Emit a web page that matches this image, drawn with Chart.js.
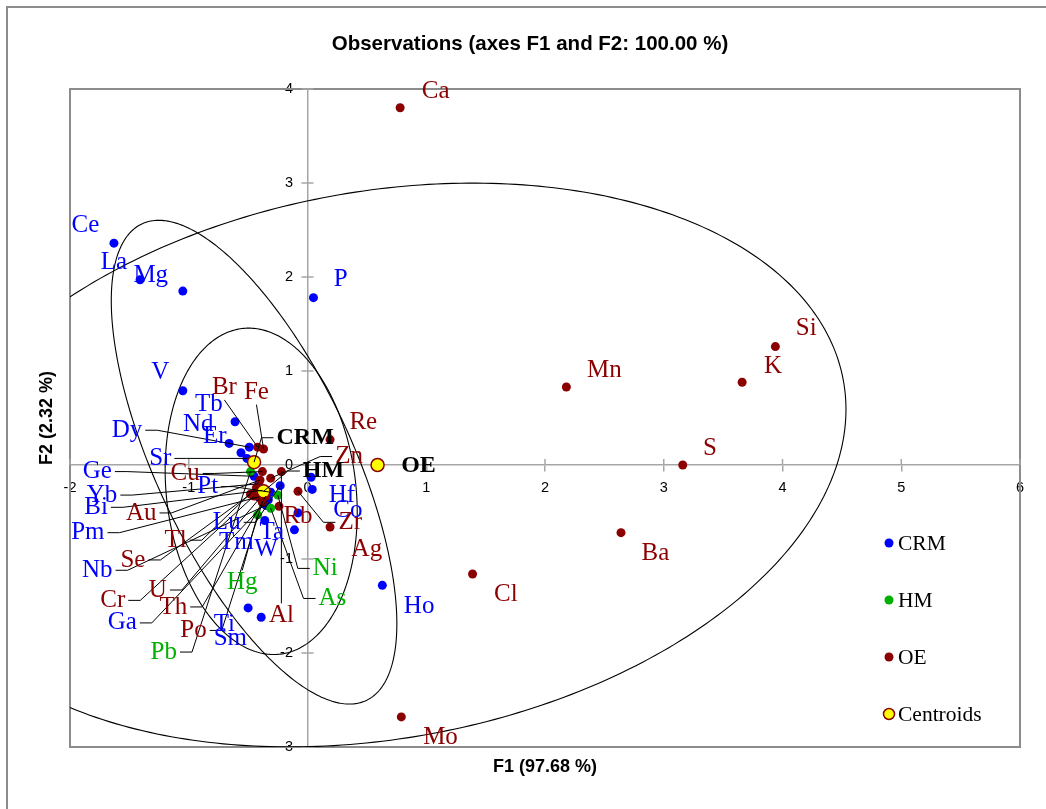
<!DOCTYPE html>
<html><head><meta charset="utf-8">
<script src="https://cdn.jsdelivr.net/npm/chart.js@4.4.1/dist/chart.umd.min.js"></script>
<style>html,body{margin:0;padding:0;background:#fff;overflow:hidden}</style>
</head><body>
<canvas id="c" width="1046" height="809" style="width:1046px;height:809px;display:block"></canvas>
<script>
// ---------- DATA ----------
const crmNames = ['Ce','La','Mg','P','V','Tb','Nd','Er','Dy','Sr','Ge','Yb','Bi','Pm','Nb','Ga','Pt','Lu','Tm','Ta','W','Ti','Sm','Hf','Co','Ho'];
const crmF1 = [-1.63,-1.41,-1.05,0.05,-1.05,-0.61,-0.66,-0.56,-0.49,-0.51,-0.45,-0.41,-0.38,-0.41,-0.35,-0.33,-0.31,-0.23,-0.36,-0.08,-0.11,-0.50,-0.39,0.03,0.04,0.63];
const crmF2 = [2.36,1.97,1.85,1.78,0.79,0.46,0.23,0.13,0.19,0.07,-0.12,-0.20,-0.27,-0.34,-0.43,-0.37,-0.29,-0.22,-0.59,-0.51,-0.69,-1.52,-1.62,-0.13,-0.26,-1.28];

const hmNames = ['Ni','Hg','As','Pb'];
const hmF1 = [-0.25,-0.42,-0.31,-0.48];
const hmF2 = [-0.32,-0.53,-0.46,-0.07];

const oeNames = ['Ca','Mn','Si','K','S','Ba','Cl','Mo','Re','Zn','Br','Fe','Cu','Au','Tl','Se','Cr','U','Th','Po','Al','Rb','Zr','Ag'];
const oeF1 = [0.78,2.18,3.94,3.66,3.16,2.64,1.39,0.79,0.19,-0.31,-0.42,-0.37,-0.38,-0.40,-0.43,-0.48,-0.45,-0.40,-0.35,-0.38,-0.22,-0.24,-0.08,0.19];
const oeF2 = [3.80,0.83,1.26,0.88,0.00,-0.72,-1.16,-2.68,0.27,-0.14,0.19,0.17,-0.07,-0.16,-0.24,-0.31,-0.33,-0.35,-0.33,-0.40,-0.07,-0.44,-0.28,-0.66];

const centroidNames = ['CRM','HM','OE'];
const centroidF1 = [-0.45,-0.37,0.59];
const centroidF2 = [0.03,-0.28,0.00];

// confidence ellipses (data units): OE, CRM, HM
const ellipseCenterF1 = [0.62,-0.45,-0.39];
const ellipseCenterF2 = [0.00,0.03,-0.28];
const ellipseSemiMajor = [4.01,2.71,1.74];
const ellipseSemiMinor = [2.87,0.85,0.80];
const ellipseAngleDeg = [18.1,109.3,94.4];

const xTicksMin = -2, xTicksMax = 6, yTicksMin = -3, yTicksMax = 4;

// label placement (label centre in data units, optional leader type)
const labelAt = {
  Ce:[-1.87,2.55], La:[-1.63,2.15], Mg:[-1.32,2.02], P:[0.28,1.97], V:[-1.24,0.98],
  Tb:[-0.83,0.64], Nd:[-0.92,0.43], Er:[-0.78,0.30], Dy:[-1.52,0.37,'h'], Sr:[-1.24,0.07,'h'],
  Ge:[-1.77,-0.07,'h'], Yb:[-1.73,-0.32,'h'], Bi:[-1.78,-0.45,'h'], Pm:[-1.85,-0.72,'h'],
  Nb:[-1.77,-1.12,'h'], Ga:[-1.56,-1.68,'h'], Pt:[-0.84,-0.23,'h'], Lu:[-0.68,-0.61,'h'],
  Tm:[-0.60,-0.82], Ta:[-0.30,-0.72], W:[-0.35,-0.90], Ti:[-0.70,-1.70], Sm:[-0.65,-1.85],
  Hf:[0.29,-0.32], Co:[0.34,-0.48], Ho:[0.94,-1.50],
  Ni:[0.15,-1.10,'h'], Hg:[-0.55,-1.25,'v'], As:[0.21,-1.42,'h'], Pb:[-1.21,-1.99,'h'],
  Ca:[1.08,3.97], Mn:[2.50,1.01], Si:[4.20,1.45], K:[3.92,1.05], S:[3.39,0.18], Ba:[2.93,-0.94],
  Cl:[1.67,-1.38], Mo:[1.12,-2.90], Re:[0.47,0.45], Zn:[0.35,0.09,'h'], Br:[-0.70,0.82,'v'],
  Fe:[-0.43,0.77,'v'], Cu:[-1.03,-0.09,'h'], Au:[-1.40,-0.51,'h'], Tl:[-1.11,-0.80,'h'],
  Se:[-1.47,-1.01,'h'], Cr:[-1.64,-1.44,'h'], U:[-1.26,-1.33,'h'], Th:[-1.13,-1.51,'h'],
  Po:[-0.96,-1.76,'h'], Al:[-0.22,-1.60,'v'], Rb:[-0.08,-0.55], Zr:[0.36,-0.61,'h'], Ag:[0.50,-0.90],
  CRM:[-0.02,0.29,'h'], HM:[0.135,-0.064,'h'], OE:[0.935,-0.01]
};

// ---------- STYLE ----------
const C_CRM = '#0000FF', C_HM = '#00B000', C_OE = '#8B0000';
const serif = "'Liberation Serif','Times New Roman',serif";
const sans = "'Liberation Sans',Arial,sans-serif";
const gridGray = '#a6a6a6';

const toPts = (a,b)=>a.map((v,i)=>({x:v,y:b[i]}));

const decor = {
  id:'decor',
  beforeDraw(chart){
    const ctx = chart.ctx;
    ctx.save();
    ctx.fillStyle='#fff'; ctx.fillRect(0,0,chart.width,chart.height);
    ctx.strokeStyle='#8c8c8c'; ctx.lineWidth=2;
    ctx.strokeRect(7,7,chart.width+40,chart.height+40);
    ctx.restore();
  },
  beforeDatasetsDraw(chart){
    const {ctx, chartArea:a} = chart;
    const xs = chart.scales.x, ys = chart.scales.y;
    ctx.save();
    ctx.strokeStyle='#8c8c8c'; ctx.lineWidth=2;
    ctx.strokeRect(a.left,a.top,a.width,a.height);
    ctx.strokeStyle=gridGray; ctx.lineWidth=1.5;
    const y0 = ys.getPixelForValue(0), x0 = xs.getPixelForValue(0);
    ctx.beginPath();
    xs.ticks.forEach(t=>{const p=xs.getPixelForValue(t.value); ctx.moveTo(p,y0-6); ctx.lineTo(p,y0);});
    ys.ticks.forEach(t=>{const p=ys.getPixelForValue(t.value); ctx.moveTo(x0-6,p); ctx.lineTo(x0+6,p);});
    ctx.stroke();
    ctx.beginPath(); ctx.rect(a.left,a.top,a.width,a.height); ctx.clip();
    ctx.strokeStyle='#000'; ctx.lineWidth=1.1;
    for(let e=0;e<ellipseCenterF1.length;e++){
      const th = ellipseAngleDeg[e]*Math.PI/180, A=ellipseSemiMajor[e], B=ellipseSemiMinor[e];
      ctx.beginPath();
      for(let k=0;k<=360;k++){
        const t=k*Math.PI/180, u=A*Math.cos(t), v=B*Math.sin(t);
        const dx = ellipseCenterF1[e] + u*Math.cos(th) - v*Math.sin(th);
        const dy = ellipseCenterF2[e] + u*Math.sin(th) + v*Math.cos(th);
        const px = xs.getPixelForValue(dx), py = ys.getPixelForValue(dy);
        if(k===0) ctx.moveTo(px,py); else ctx.lineTo(px,py);
      }
      ctx.stroke();
    }
    ctx.restore();
  },
  afterDatasetsDraw(chart){
    const {ctx, chartArea:a} = chart;
    const xs = chart.scales.x, ys = chart.scales.y;
    const groups = [
      {names:crmNames,f1:crmF1,f2:crmF2,color:C_CRM,font:'25px '+serif},
      {names:hmNames,f1:hmF1,f2:hmF2,color:C_HM,font:'25px '+serif},
      {names:oeNames,f1:oeF1,f2:oeF2,color:C_OE,font:'25px '+serif},
      {names:centroidNames,f1:centroidF1,f2:centroidF2,color:'#000',font:'bold 24px '+serif}
    ];
    ctx.save();
    ctx.strokeStyle='#000'; ctx.lineWidth=1;
    groups.forEach(g=>g.names.forEach((n,i)=>{
      const L = labelAt[n]; if(!L || !L[2]) return;
      const px=xs.getPixelForValue(g.f1[i]), py=ys.getPixelForValue(g.f2[i]);
      const lx=xs.getPixelForValue(L[0]), ly=ys.getPixelForValue(L[1]);
      ctx.font=g.font; const w=ctx.measureText(n).width;
      ctx.beginPath();
      if(L[2]==='h'){
        const dir = px<lx?-1:1; const ax=lx+dir*(w/2+3), sx=ax+dir*12;
        ctx.moveTo(ax,ly); ctx.lineTo(sx,ly); ctx.lineTo(px,py);
      } else {
        const dir = py<ly?-1:1; ctx.moveTo(lx,ly+dir*12); ctx.lineTo(px,py);
      }
      ctx.stroke();
    }));
    ctx.textAlign='center'; ctx.textBaseline='middle';
    groups.forEach(g=>g.names.forEach((n,i)=>{
      const L = labelAt[n]; if(!L) return;
      ctx.font=g.font; ctx.fillStyle=g.color;
      ctx.fillText(n, xs.getPixelForValue(L[0]), ys.getPixelForValue(L[1]));
    }));
    const items = chart.data.datasets.slice().sort((p,q)=>p.legendIndex-q.legendIndex);
    ctx.textAlign='left'; ctx.font='21.5px '+serif;
    items.forEach((d,k)=>{
      const x = a.right-131, y = a.bottom-204+k*57;
      ctx.beginPath(); ctx.arc(x,y,d.legendIndex===3?5.5:4.5,0,Math.PI*2);
      ctx.fillStyle=d.backgroundColor; ctx.fill();
      if(d.legendIndex===3){ctx.strokeStyle=d.borderColor; ctx.lineWidth=1.5; ctx.stroke();}
      ctx.fillStyle='#000'; ctx.fillText(d.label, x+9, y+1);
    });
    ctx.restore();
  }
};

const hiddenAxis = (axis,pos,text,pad,size)=>({
  type:'linear', axis, position:pos, min:0, max:1,
  ticks:{display:false}, grid:{display:false,drawTicks:false}, border:{display:false},
  title:{display:true,text,color:'#000',font:{family:sans,size:size||18,weight:'bold'},padding:pad}
});

new Chart(document.getElementById('c'),{
  type:'scatter',
  data:{datasets:[
    {label:'Centroids',legendIndex:3,order:0,data:toPts(centroidF1,centroidF2),backgroundColor:'#FFFF00',borderColor:C_OE,borderWidth:1.5,pointRadius:6.5,xAxisID:'x',yAxisID:'y'},
    {label:'HM',legendIndex:1,order:1,data:toPts(hmF1,hmF2),backgroundColor:C_HM,borderWidth:0,pointRadius:4.5,xAxisID:'x',yAxisID:'y'},
    {label:'OE',legendIndex:2,order:2,data:toPts(oeF1,oeF2),backgroundColor:C_OE,borderWidth:0,pointRadius:4.5,xAxisID:'x',yAxisID:'y'},
    {label:'CRM',legendIndex:0,order:3,data:toPts(crmF1,crmF2),backgroundColor:C_CRM,borderWidth:0,pointRadius:4.5,xAxisID:'x',yAxisID:'y'}
  ]},
  options:{
    responsive:false, animation:false, devicePixelRatio:1,
    layout:{padding:{left:14,right:0,top:0,bottom:0}},
    plugins:{
      legend:{display:false}, tooltip:{enabled:false},
      title:{display:true,text:'Observations (axes F1 and F2: 100.00 %)',color:'#000',
        font:{family:sans,size:20.5,weight:'bold'},padding:{top:31.7,bottom:32.7}}
    },
    scales:{
      x:{type:'linear',min:xTicksMin,max:xTicksMax,position:{y:0},
        ticks:{stepSize:1,color:'#000',font:{family:sans,size:14.5},padding:8,maxRotation:0,autoSkip:false},
        grid:{drawOnChartArea:false,drawTicks:true,tickLength:6,color:gridGray,lineWidth:1.5},
        border:{display:true,color:gridGray,width:1.5}},
      y:{type:'linear',min:yTicksMin,max:yTicksMax,position:{x:0},
        ticks:{stepSize:1,color:'#000',font:{family:sans,size:14.5},autoSkip:false,
          callback:v=>v+'\u2002\u2002'},
        grid:{drawOnChartArea:false,drawTicks:false},
        border:{display:true,color:gridGray,width:1.5}},
      xTitle:hiddenAxis('x','bottom','F1 (97.68 %)',{top:9.2,bottom:31.2}),
      yTitle:hiddenAxis('y','left','F2 (2.32 %)',{top:22.2,bottom:12.2}),
      yPad:hiddenAxis('y','right','',{top:7,bottom:7},10)
    }
  },
  plugins:[decor]
});
</script>
</body></html>
